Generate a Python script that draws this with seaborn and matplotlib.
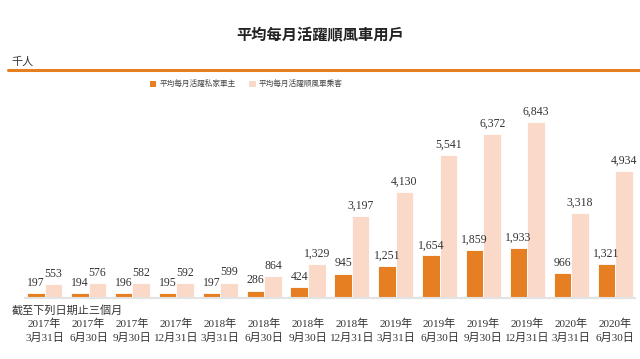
import numpy as np
import pandas as pd
import matplotlib
matplotlib.use("Agg")
import matplotlib.pyplot as plt
import seaborn as sns
from matplotlib.lines import Line2D
from matplotlib.patches import Patch

# 截至下列日期止三個月
periods = ["2017年\n3月31日", "2017年\n6月30日", "2017年\n9月30日", "2017年\n12月31日",
           "2018年\n3月31日", "2018年\n6月30日", "2018年\n9月30日", "2018年\n12月31日",
           "2019年\n3月31日", "2019年\n6月30日", "2019年\n9月30日", "2019年\n12月31日",
           "2020年\n3月31日", "2020年\n6月30日"]
drivers = [197, 194, 196, 195, 197, 286, 424, 945, 1251, 1654, 1859, 1933, 966, 1321]
riders = [553, 576, 582, 592, 599, 864, 1329, 3197, 4130, 5541, 6372, 6843, 3318, 4934]
series_names = ["平均每月活躍私家車主", "平均每月活躍順風車乘客"]

orange = "#E67E22"
peach = "#FAD9C8"

sns.set_theme(style="white")
fonts = ["Liberation Serif", "Noto Sans CJK TC", "DejaVu Sans"]
plt.rcParams["font.family"] = fonts

df = pd.DataFrame({
    "period": periods * 2,
    "value": drivers + riders,
    "series": [series_names[0]] * len(periods) + [series_names[1]] * len(periods),
})

fig = plt.figure(figsize=(6.4, 3.59), dpi=100)
ax = fig.add_axes([0.039, 0.170, 0.953, 0.552])

sns.barplot(data=df, x="period", y="value", hue="series", order=periods,
            hue_order=series_names, palette=[orange, peach], saturation=1,
            width=0.8, edgecolor="white", linewidth=0.6, legend=False, ax=ax)

# labels on top of bars
for cont in ax.containers:
    ax.bar_label(cont, labels=[f"{v:,.0f}" for v in cont.datavalues],
                 padding=3, fontsize=8.5, color="#333333")

ax.set_xlim(-0.45, 13.45)
ax.set_ylim(0, 7700)
ax.set_xlabel("")
ax.set_ylabel("")
ax.set_yticks([])
ax.tick_params(axis="x", length=0, pad=15, labelsize=8, labelcolor="#333333")
for lbl in ax.get_xticklabels():
    lbl.set_linespacing(1.45)
for s in ["top", "left", "right"]:
    ax.spines[s].set_visible(False)
ax.spines["bottom"].set_color("#e3e3e3")
ax.spines["bottom"].set_linewidth(1.5)

# titles and header
fig.text(0.5, 0.9, "平均每月活躍順風車用戶", ha="center", va="center",
         fontsize=11, fontweight="bold", color="#222222")
fig.text(0.018, 0.828, "千人", ha="left", va="center", fontsize=8, color="#333333")
fig.add_artist(Line2D([0.013, 1.0], [0.805, 0.805], color=orange, lw=2.2,
                      transform=fig.transFigure))
fig.text(0.018, 0.136, "截至下列日期止三個月", ha="left", va="center",
         fontsize=8, color="#333333")

handles = [Patch(facecolor=orange, edgecolor="none"), Patch(facecolor=peach, edgecolor="none")]
fig.legend(handles, series_names, loc="center", bbox_to_anchor=(0.385, 0.765),
           ncol=2, frameon=False, fontsize=5.5, handlelength=0.8, handleheight=0.8,
           handletextpad=0.4, columnspacing=1.8, labelcolor="#444444")

fig.savefig("out.png", dpi=100, facecolor="white")
